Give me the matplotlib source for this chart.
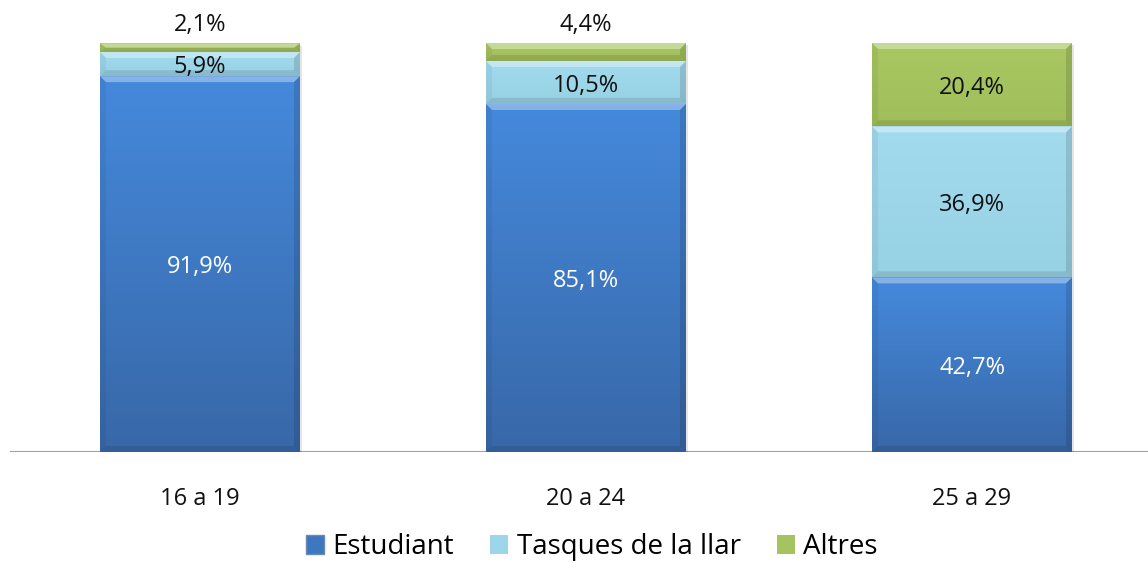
import numpy as np
import matplotlib.pyplot as plt
from matplotlib.patches import Patch, Polygon, Rectangle
from matplotlib.colors import LinearSegmentedColormap

categories = ['16 a 19', '20 a 24', '25 a 29']
series = ['Estudiant', 'Tasques de la llar', 'Altres']
estudiant = [91.9, 85.1, 42.7]
tasques = [5.9, 10.5, 36.9]
altres = [2.1, 4.4, 20.4]
labels = [['91,9%', '85,1%', '42,7%'],
          ['5,9%', '10,5%', '36,9%'],
          ['2,1%', '4,4%', '20,4%']]

plt.rcParams['font.family'] = ['Open Sans', 'DejaVu Sans']

# colour pairs: top, bottom of each gradient
grads = [('#4589dc', '#3868a8'), ('#a3dbee', '#97d1e4'), ('#a9c862', '#a0be5a')]
legend_colors = ['#3d77c0', '#9dd6e9', '#a5c460']
text_colors = ['white', '#111111', '#111111']

fig = plt.figure(figsize=(11.48, 5.63), dpi=100)
ax = fig.add_axes([10 / 1148, 1 - 452 / 563, 1138 / 1148, 409 / 563])
unit = 386.0
ax.set_xlim(-190 / unit, -190 / unit + 1138 / unit)
ax.set_ylim(0, 100)
ax.axis('off')
ax.axhline(0, color='#a0a0a0', lw=1.5, zorder=1)

width = 200 / unit
bx = 6 / unit
by = 6 / 409 * 100
dy = 0.8  # nudge text down so it looks centred
data = [estudiant, tasques, altres]
x = np.arange(len(categories))
bottoms = np.zeros(len(categories))

for s, vals in enumerate(data):
    cmap = LinearSegmentedColormap.from_list('g%d' % s, [grads[s][1], grads[s][0]])
    for i, v in enumerate(vals):
        x0, x1 = x[i] - width / 2, x[i] + width / 2
        y0, y1 = bottoms[i], bottoms[i] + v
        # soft shadow
        ax.add_patch(Rectangle((x0 + 2 / unit, y0 - 0.6), width, v, color='#000000',
                               alpha=0.10, lw=0, zorder=2))
        rect = Rectangle((x0, y0), width, v, facecolor='none', edgecolor='none', zorder=3)
        ax.add_patch(rect)
        grad = np.linspace(0, 1, 100).reshape(-1, 1)
        im = ax.imshow(grad, cmap=cmap, extent=[x0, x1, y0, y1], origin='lower',
                       aspect='auto', zorder=3)
        im.set_clip_path(rect)
        bbx = min(bx, width / 2)
        bby = min(by, v / 2)
        top = Polygon([(x0, y1), (x1, y1), (x1 - bbx, y1 - bby), (x0 + bbx, y1 - bby)],
                      closed=True, facecolor='white', alpha=0.35, lw=0, zorder=4)
        bot = Polygon([(x0, y0), (x1, y0), (x1 - bbx, y0 + bby), (x0 + bbx, y0 + bby)],
                      closed=True, facecolor='black', alpha=0.10, lw=0, zorder=4)
        left = Polygon([(x0, y0), (x0, y1), (x0 + bbx, y1 - bby), (x0 + bbx, y0 + bby)],
                       closed=True, facecolor='black', alpha=0.05, lw=0, zorder=4)
        right = Polygon([(x1, y0), (x1, y1), (x1 - bbx, y1 - bby), (x1 - bbx, y0 + bby)],
                        closed=True, facecolor='black', alpha=0.12, lw=0, zorder=4)
        for p in (top, bot, left, right):
            ax.add_patch(p)
        if v < 5:
            ty = 100 + 5.1
        else:
            ty = y0 + v / 2
        ax.text(x[i], ty - dy, labels[s][i], ha='center', va='center', fontsize=17,
                color=text_colors[s] if v >= 5 else '#111111', zorder=5, clip_on=False)
    bottoms += np.array(vals)

for i, c in enumerate(categories):
    ax.text(x[i], -10.6 - dy, c, ha='center', va='center', fontsize=17, color='#111111',
            clip_on=False)

handles = [Patch(facecolor=legend_colors[k], edgecolor='#6a8ab0' if k == 0 else 'none')
           for k in range(3)]
fig.legend(handles, series, loc='center', bbox_to_anchor=(592 / 1148, 1 - 547 / 563),
           ncol=3, frameon=False, fontsize=20, handlelength=0.65, handleheight=0.65,
           handletextpad=0.3, columnspacing=1.3, borderpad=0)

fig.savefig('out.png', dpi=100)
